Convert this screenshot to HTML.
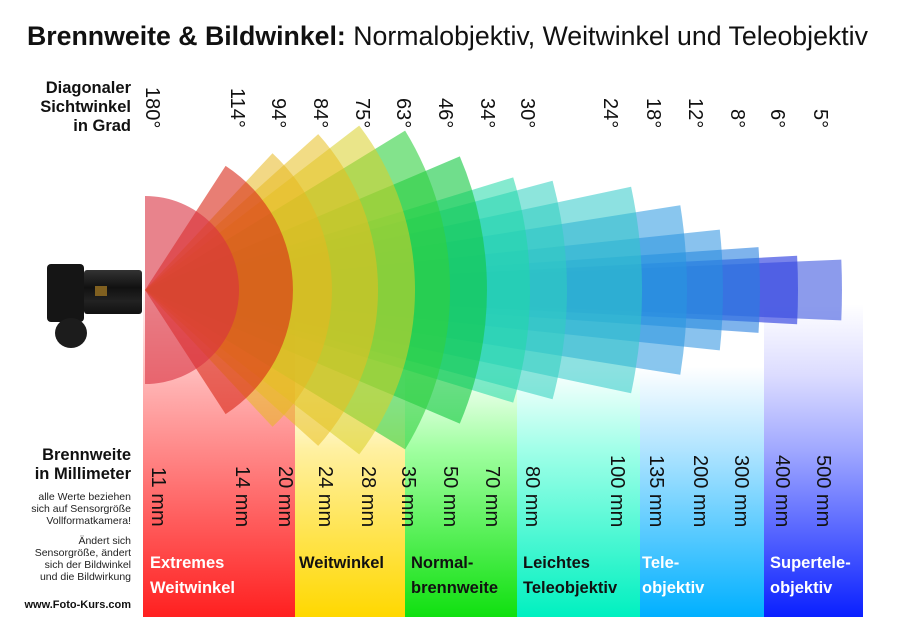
<!DOCTYPE html>
<html><head><meta charset="utf-8"><style>
html,body{margin:0;padding:0;background:#fff;}
body{width:900px;height:633px;position:relative;overflow:hidden;font-family:"Liberation Sans",Arial,sans-serif;}
.v{position:absolute;writing-mode:vertical-rl;font-size:20px;color:#111;white-space:nowrap;line-height:22px;}
.a{bottom:505px;}
.m{bottom:106px;}
.col{position:absolute;top:200px;height:417px;}
.cat{position:absolute;font-weight:bold;font-size:16.5px;line-height:25px;}
.lbl{position:absolute;right:769px;text-align:right;color:#111;}
</style></head><body>
<div style="position:absolute;left:27px;top:21px;font-size:26.7px;white-space:nowrap;color:#111"><b>Brennweite &amp; Bildwinkel:</b> Normalobjektiv, Weitwinkel und Teleobjektiv</div>

<div class="lbl" style="top:79px;font-weight:bold;font-size:16.5px;line-height:19px;">Diagonaler<br>Sichtwinkel<br>in Grad</div>

<div class="col" style="left:143px;width:152px;background:linear-gradient(#fff 0%,#fff 20%,#ffb0b0 45%,#ff2020 100%)"></div>
<div class="col" style="left:295px;width:110px;background:linear-gradient(#fff 0%,#fff 45%,#fff0a0 60%,#ffd800 100%)"></div>
<div class="col" style="left:405px;width:112px;background:linear-gradient(#fff 0%,#fff 40%,#a0ffa0 60%,#10e010 100%)"></div>
<div class="col" style="left:517px;width:123px;background:linear-gradient(#fff 0%,#fff 40%,#a0ffe8 60%,#00f0c0 100%)"></div>
<div class="col" style="left:640px;width:124px;background:linear-gradient(#fff 0%,#fff 40%,#b0e4ff 60%,#00b0ff 100%)"></div>
<div class="col" style="left:764px;width:99px;background:linear-gradient(#fff 0%,#fff 25%,#dcdcff 42%,#a0a8ff 60%,#0a20ff 100%)"></div>

<svg style="position:absolute;left:0;top:0" width="900" height="633">
<g id="w"></g>
</svg>
<script>
(function(){
var cx=145,cy=290;
var d=[[180,94,'#d83040',0.6],[114,148,'#d82818',0.6],[94,187,'#e8b820',0.55],[84,233,'#e8c020',0.55],[75,270,'#d8d028',0.55],[63,305,'#30d040',0.6],[46,342,'#10c840',0.6],[34,385,'#20d8a8',0.55],[30,422,'#30d0c0',0.55],[24,497,'#30c8c8',0.55],[18,542,'#2898e0',0.55],[12,578,'#2890e0',0.55],[8,615,'#2880e0',0.6],[6,653,'#3040e0',0.65],[5,697,'#4058e0',0.6]];
var g=document.getElementById('w'),s='';
d.slice().reverse().forEach(function(e){var h=e[0]/2*Math.PI/180,r=e[1];
var x1=cx+r*Math.cos(h),y1=cy-r*Math.sin(h),x2=x1,y2=cy+r*Math.sin(h);
s+='<path d="M'+cx+','+cy+' L'+x1.toFixed(1)+','+y1.toFixed(1)+' A'+r+','+r+' 0 0 1 '+x2.toFixed(1)+','+y2.toFixed(1)+' Z" fill="'+e[2]+'" fill-opacity="'+e[3]+'"/>';});
g.innerHTML=s;})();
</script>

<!-- camera -->
<div style="position:absolute;left:47px;top:264px;width:37px;height:58px;background:#151515;border-radius:4px"></div>
<div style="position:absolute;left:55px;top:318px;width:32px;height:30px;background:#1c1c1c;border-radius:50%"></div>
<div style="position:absolute;left:84px;top:270px;width:58px;height:44px;background:linear-gradient(#333,#111 40%,#222 70%,#111);border-radius:3px"></div>
<div style="position:absolute;left:95px;top:286px;width:12px;height:10px;background:#806020"></div>

<div class="v a" style="left:141px">180°</div>
<div class="v a" style="left:226px">114°</div>
<div class="v a" style="left:267px">94°</div>
<div class="v a" style="left:309px">84°</div>
<div class="v a" style="left:351px">75°</div>
<div class="v a" style="left:392px">63°</div>
<div class="v a" style="left:434px">46°</div>
<div class="v a" style="left:476px">34°</div>
<div class="v a" style="left:516px">30°</div>
<div class="v a" style="left:599px">24°</div>
<div class="v a" style="left:642px">18°</div>
<div class="v a" style="left:684px">12°</div>
<div class="v a" style="left:726px">8°</div>
<div class="v a" style="left:766px">6°</div>
<div class="v a" style="left:809px">5°</div>

<div class="lbl" style="top:446px;font-weight:bold;font-size:16.5px;line-height:19px;">Brennweite<br>in Millimeter</div>
<div class="lbl" style="top:491px;font-size:10.5px;line-height:12px;color:#222">alle Werte beziehen<br>sich auf Sensorgröße<br>Vollformatkamera!</div>
<div class="lbl" style="top:535px;font-size:10.5px;line-height:12px;color:#222">Ändert sich<br>Sensorgröße, ändert<br>sich der Bildwinkel<br>und die Bildwirkung</div>
<div class="lbl" style="top:599px;font-size:11px;font-weight:bold;">www.Foto-Kurs.com</div>

<div class="v m" style="left:147px">11 mm</div>
<div class="v m" style="left:231px">14 mm</div>
<div class="v m" style="left:274px">20 mm</div>
<div class="v m" style="left:314px">24 mm</div>
<div class="v m" style="left:357px">28 mm</div>
<div class="v m" style="left:397px">35 mm</div>
<div class="v m" style="left:439px">50 mm</div>
<div class="v m" style="left:481px">70 mm</div>
<div class="v m" style="left:521px">80 mm</div>
<div class="v m" style="left:606px">100 mm</div>
<div class="v m" style="left:645px">135 mm</div>
<div class="v m" style="left:689px">200 mm</div>
<div class="v m" style="left:730px">300 mm</div>
<div class="v m" style="left:771px">400 mm</div>
<div class="v m" style="left:812px">500 mm</div>

<div class="cat" style="left:150px;top:551px;color:#fff">Extremes<br>Weitwinkel</div>
<div class="cat" style="left:299px;top:551px;color:#111">Weitwinkel</div>
<div class="cat" style="left:411px;top:551px;color:#111">Normal-<br>brennweite</div>
<div class="cat" style="left:523px;top:551px;color:#111">Leichtes<br>Teleobjektiv</div>
<div class="cat" style="left:642px;top:551px;color:#fff">Tele-<br>objektiv</div>
<div class="cat" style="left:770px;top:551px;color:#fff">Supertele-<br>objektiv</div>
</body></html>
